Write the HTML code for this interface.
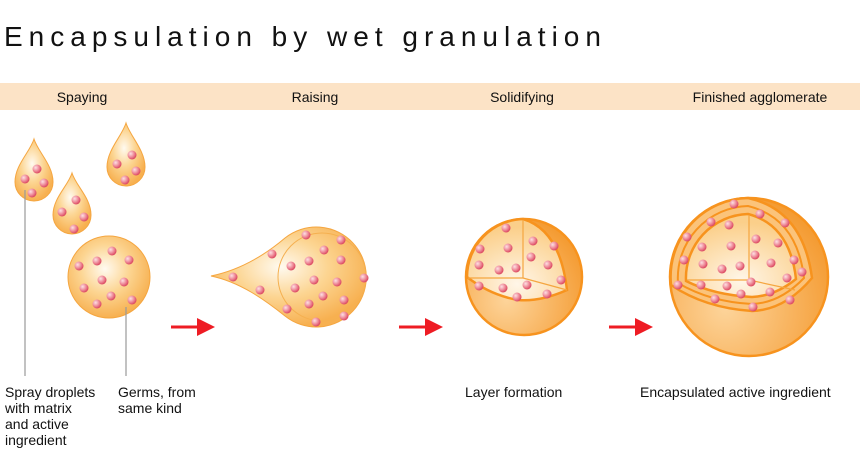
<!DOCTYPE html>
<html><head><meta charset="utf-8"><style>
body{margin:0;background:#fff}
svg{display:block}
text{font-family:"Liberation Sans",Arial,sans-serif;fill:#111}
</style></head><body>
<svg width="860" height="470" viewBox="0 0 860 470" xmlns="http://www.w3.org/2000/svg">
<defs>
<radialGradient id="g" cx="0.45" cy="0.4" r="0.6"><stop offset="0" stop-color="#fffaf0"/><stop offset="0.5" stop-color="#fcd592"/><stop offset="1" stop-color="#f7b050"/></radialGradient>
<radialGradient id="gs" cx="0.35" cy="0.7" r="0.75"><stop offset="0" stop-color="#fdd49a"/><stop offset="1" stop-color="#f49a30"/></radialGradient>
<radialGradient id="gc" cx="0.5" cy="0.8" r="0.7"><stop offset="0" stop-color="#fff6e8"/><stop offset="1" stop-color="#fbcf8a"/></radialGradient>
<radialGradient id="d" cx="0.35" cy="0.35" r="0.7"><stop offset="0" stop-color="#fde0e4"/><stop offset="0.5" stop-color="#f0929f"/><stop offset="1" stop-color="#d9405a"/></radialGradient>
<marker id="ah" markerWidth="6" markerHeight="6" refX="1" refY="3" orient="auto"><path d="M0,0 L6,3 L0,6z" fill="#ee1c24"/></marker>
</defs>
<text x="4" y="46" font-size="28" letter-spacing="6">Encapsulation by wet granulation</text>
<rect x="0" y="83" width="860" height="27" fill="#fce3c6"/>
<g font-size="14" text-anchor="middle">
<text x="82" y="102">Spaying</text><text x="315" y="102">Raising</text><text x="522" y="102">Solidifying</text><text x="760" y="102">Finished agglomerate</text>
</g>
<g fill="url(#g)" stroke="#f5a640" stroke-width="1">
<path d="M34,139 C38,152 53,165 53,182 A19,19 0 0 1 15,182 C15,165 30,152 34,139Z"/>
<path d="M72,173 C76,186 91,198 91,215 A19,19 0 0 1 53,215 C53,198 68,186 72,173Z"/>
<path d="M126,123 C130,136 145,150 145,167 A19,19 0 0 1 107,167 C107,150 122,136 126,123Z"/>
<circle cx="109" cy="277" r="41"/>
<path d="M211,276 C240,270 265,255 285,238 A50,50 0 1 1 285,316 C265,300 240,282 211,276Z"/>
<circle cx="322" cy="277" r="44" fill="none" stroke="#f5b050"/>
</g>
<g fill="none" stroke="#999" stroke-width="1.2"><path d="M25,190V376"/><path d="M126,307V376"/></g>
<g stroke="#ee1c24" stroke-width="3"><path d="M171,327H200" marker-end="url(#ah)"/><path d="M399,327H428" marker-end="url(#ah)"/><path d="M609,327H638" marker-end="url(#ah)"/></g>
<circle cx="524" cy="277" r="58" fill="url(#gs)" stroke="#f7931e" stroke-width="2.5"/>
<path d="M467,277 A58,58 0 0 1 523,219 Q560,230 567,290 Q540,302 518,300 Q490,295 467,277Z" fill="url(#gc)" stroke="#f7931e" stroke-width="2.5"/>
<g stroke="#f5a640" stroke-width="1.2" fill="none"><path d="M523,220V278H468M523,278L567,290"/></g>
<circle cx="749" cy="277" r="79" fill="url(#gs)" stroke="#f7931e" stroke-width="2.5"/>
<path d="M671,285 A79,79 0 0 1 748,198 Q803,210 812,278 Q785,310 752,311 Q705,308 671,285Z" fill="#fbc37a" stroke="#f7931e" stroke-width="2.5"/>
<path d="M678,283 A72,72 0 0 1 748,206 Q797,218 804,278 Q780,303 752,304 Q710,302 678,283Z" fill="none" stroke="#f7931e" stroke-width="2"/>
<path d="M686,281 A64,64 0 0 1 748,214 Q790,225 796,279 Q775,296 752,297 Q714,295 686,281Z" fill="url(#gc)" stroke="#f7931e" stroke-width="2.5"/>
<g stroke="#f5a640" stroke-width="1.2" fill="none"><path d="M749,215V280H687M749,280L795,290"/></g>
<g fill="url(#d)">
<circle cx="37" cy="169" r="4.5"/><circle cx="25" cy="179" r="4.5"/><circle cx="44" cy="183" r="4.5"/><circle cx="32" cy="193" r="4.5"/>
<circle cx="76" cy="200" r="4.5"/><circle cx="62" cy="212" r="4.5"/><circle cx="84" cy="217" r="4.5"/><circle cx="74" cy="229" r="4.5"/>
<circle cx="132" cy="155" r="4.5"/><circle cx="117" cy="164" r="4.5"/><circle cx="136" cy="171" r="4.5"/><circle cx="125" cy="180" r="4.5"/>
<circle cx="112" cy="251" r="4.5"/><circle cx="97" cy="261" r="4.5"/><circle cx="129" cy="260" r="4.5"/><circle cx="79" cy="266" r="4.5"/><circle cx="102" cy="280" r="4.5"/><circle cx="124" cy="282" r="4.5"/><circle cx="84" cy="288" r="4.5"/><circle cx="111" cy="296" r="4.5"/><circle cx="97" cy="304" r="4.5"/><circle cx="132" cy="300" r="4.5"/>
<circle cx="306" cy="235" r="4.5"/><circle cx="341" cy="240" r="4.5"/><circle cx="272" cy="254" r="4.5"/><circle cx="324" cy="250" r="4.5"/><circle cx="341" cy="260" r="4.5"/><circle cx="291" cy="266" r="4.5"/><circle cx="309" cy="261" r="4.5"/><circle cx="233" cy="277" r="4.5"/><circle cx="364" cy="278" r="4.5"/><circle cx="314" cy="280" r="4.5"/><circle cx="337" cy="282" r="4.5"/><circle cx="260" cy="290" r="4.5"/><circle cx="295" cy="288" r="4.5"/><circle cx="323" cy="296" r="4.5"/><circle cx="344" cy="300" r="4.5"/><circle cx="309" cy="304" r="4.5"/><circle cx="287" cy="309" r="4.5"/><circle cx="344" cy="316" r="4.5"/><circle cx="316" cy="322" r="4.5"/>
<circle cx="506" cy="228" r="4.5"/><circle cx="480" cy="249" r="4.5"/><circle cx="508" cy="248" r="4.5"/><circle cx="533" cy="241" r="4.5"/><circle cx="554" cy="246" r="4.5"/><circle cx="531" cy="257" r="4.5"/><circle cx="479" cy="265" r="4.5"/><circle cx="548" cy="265" r="4.5"/><circle cx="499" cy="270" r="4.5"/><circle cx="516" cy="268" r="4.5"/><circle cx="561" cy="280" r="4.5"/><circle cx="479" cy="286" r="4.5"/><circle cx="503" cy="288" r="4.5"/><circle cx="527" cy="285" r="4.5"/><circle cx="517" cy="297" r="4.5"/><circle cx="547" cy="294" r="4.5"/>
<circle cx="734" cy="204" r="4.5"/><circle cx="760" cy="214" r="4.5"/><circle cx="711" cy="222" r="4.5"/><circle cx="785" cy="223" r="4.5"/><circle cx="729" cy="225" r="4.5"/><circle cx="687" cy="237" r="4.5"/><circle cx="731" cy="246" r="4.5"/><circle cx="756" cy="239" r="4.5"/><circle cx="778" cy="243" r="4.5"/><circle cx="702" cy="247" r="4.5"/><circle cx="755" cy="255" r="4.5"/><circle cx="684" cy="260" r="4.5"/><circle cx="703" cy="264" r="4.5"/><circle cx="771" cy="263" r="4.5"/><circle cx="794" cy="260" r="4.5"/><circle cx="722" cy="269" r="4.5"/><circle cx="740" cy="266" r="4.5"/><circle cx="802" cy="272" r="4.5"/><circle cx="787" cy="278" r="4.5"/><circle cx="678" cy="285" r="4.5"/><circle cx="701" cy="285" r="4.5"/><circle cx="727" cy="286" r="4.5"/><circle cx="751" cy="282" r="4.5"/><circle cx="770" cy="292" r="4.5"/><circle cx="741" cy="294" r="4.5"/><circle cx="715" cy="299" r="4.5"/><circle cx="790" cy="300" r="4.5"/><circle cx="753" cy="307" r="4.5"/>
</g>
<g font-size="14">
<text x="5" y="397">Spray droplets</text><text x="5" y="413">with matrix</text><text x="5" y="429">and active</text><text x="5" y="445">ingredient</text>
<text x="118" y="397">Germs, from</text><text x="118" y="413">same kind</text>
<text x="465" y="397">Layer formation</text>
<text x="640" y="397">Encapsulated active ingredient</text>
</g>
</svg>
</body></html>
